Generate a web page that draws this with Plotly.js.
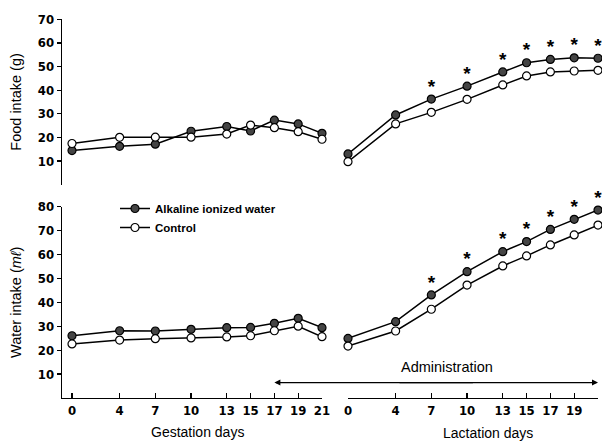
<!DOCTYPE html>
<html>
<head>
<meta charset="utf-8">
<script src="https://cdn.plot.ly/plotly-3.0.1.min.js"></script>
<style>html,body{margin:0;padding:0;background:#fff}#chart{width:602px;height:443px}</style>
</head>
<body>
<div id="chart"></div>
<script>
// ---- data ----
const gestDays = [0, 4, 7, 10, 13, 15, 17, 19, 21];
const lactDays = [0, 4, 7, 10, 13, 15, 17, 19, 21];
const dayLabels = ['0', '4', '7', '10', '13', '15', '17', '19', '21'];

const foodGestAlk = [14.4, 16.2, 17.1, 22.6, 24.6, 22.7, 27.3, 25.7, 21.7];
const foodGestCtl = [17.4, 20.0, 20.1, 20.1, 21.4, 25.2, 24.1, 22.4, 19.2];
const foodLactAlk = [13.0, 29.5, 36.2, 41.7, 47.7, 51.6, 53.0, 53.7, 53.5];
const foodLactCtl = [9.7, 25.7, 30.6, 36.1, 42.2, 46.0, 47.7, 48.1, 48.4];

const waterGestAlk = [26.0, 28.1, 28.0, 28.7, 29.4, 29.5, 31.2, 33.3, 29.4];
const waterGestCtl = [22.6, 24.2, 24.8, 25.1, 25.5, 26.0, 28.1, 30.0, 25.6];
const waterLactAlk = [24.9, 31.9, 43.1, 52.8, 61.2, 65.4, 70.5, 74.7, 78.6];
const waterLactCtl = [21.7, 28.0, 37.1, 47.2, 55.2, 59.4, 64.0, 68.2, 72.3];

const foodSig = [false, false, true, true, true, true, true, true, true];
const waterSig = [false, false, true, true, true, true, true, true, true];

const foodTicks = [10, 20, 30, 40, 50, 60, 70];
const waterTicks = [10, 20, 30, 40, 50, 60, 70, 80];

const seriesNames = ['Alkaline ionized water', 'Control'];

// ---- styles ----
const FONT = 'Liberation Sans, Arial, sans-serif';
const TICKFONT = 'DejaVu Sans Condensed, Liberation Sans Narrow, Liberation Sans, Arial, sans-serif';
const alkStyle = {
  mode: 'lines+markers',
  line: {color: '#000', width: 1.5},
  marker: {symbol: 'circle', size: 8, color: '#444', line: {color: '#000', width: 1.2}},
  cliponaxis: false
};
const ctlStyle = {
  mode: 'lines+markers',
  line: {color: '#000', width: 1.5},
  marker: {symbol: 'circle', size: 8, color: '#fff', line: {color: '#000', width: 1.2}},
  cliponaxis: false
};

function series(x, y, xa, ya, style, name, show) {
  return Object.assign({}, style, {
    x: x, y: y, xaxis: xa, yaxis: ya, name: name,
    legendgroup: name, showlegend: show
  });
}
function stars(x, y, sig, xa, ya) {
  const xs = [], ys = [];
  sig.forEach((s, i) => { if (s) { xs.push(x[i]); ys.push(y[i]); } });
  return {
    x: xs, y: ys, xaxis: xa, yaxis: ya, mode: 'markers+text',
    text: xs.map(() => '*'), textposition: 'top center',
    textfont: {family: FONT, size: 19, color: '#000', weight: 'bold'},
    marker: {size: 1, opacity: 0}, showlegend: false, hoverinfo: 'skip',
    cliponaxis: false
  };
}

const traces = [
  series(gestDays, waterGestAlk, 'x', 'y2', alkStyle, seriesNames[0], true),
  series(gestDays, waterGestCtl, 'x', 'y2', ctlStyle, seriesNames[1], true),
  series(lactDays, waterLactAlk, 'x2', 'y2', alkStyle, seriesNames[0], false),
  series(lactDays, waterLactCtl, 'x2', 'y2', ctlStyle, seriesNames[1], false),
  series(gestDays, foodGestAlk, 'x', 'y', alkStyle, seriesNames[0], false),
  series(gestDays, foodGestCtl, 'x', 'y', ctlStyle, seriesNames[1], false),
  series(lactDays, foodLactAlk, 'x2', 'y', alkStyle, seriesNames[0], false),
  series(lactDays, foodLactCtl, 'x2', 'y', ctlStyle, seriesNames[1], false),
  stars(lactDays, foodLactAlk, foodSig, 'x2', 'y'),
  stars(lactDays, waterLactAlk, waterSig, 'x2', 'y2')
];

const W = 602, H = 443;
const xAxisCommon = {
  showgrid: false, zeroline: false, showline: true, linecolor: '#000', linewidth: 1.3,
  ticks: 'inside', ticklen: 5, tickwidth: 1.2, tickcolor: '#000',
  tickfont: {family: TICKFONT, size: 13, color: '#000', weight: 'bold'},
  anchor: 'y2', fixedrange: true
};
const yAxisCommon = {
  showgrid: false, zeroline: false, showline: true, linecolor: '#000', linewidth: 1.3,
  ticks: 'outside', ticklen: 4, tickwidth: 1.2, tickcolor: '#000',
  tickfont: {family: TICKFONT, size: 13, color: '#000', weight: 'bold'},
  anchor: 'x', fixedrange: true
};
const titleFont = {family: FONT, size: 14.5, color: '#000'};
const xTitleFont = {family: FONT, size: 14, color: '#000'};

const layout = {
  width: W, height: H,
  margin: {l: 0, r: 0, t: 0, b: 0, autoexpand: false},
  paper_bgcolor: '#fff', plot_bgcolor: '#fff',
  font: {family: FONT, color: '#000'},
  showlegend: true,
  legend: {
    x: 115 / W, y: 1 - 194 / H, xanchor: 'left', yanchor: 'top',
    bgcolor: 'rgba(0,0,0,0)', borderwidth: 0,
    font: {family: FONT, size: 11.5, color: '#000', weight: 'bold'},
    tracegroupgap: 0, itemwidth: 30
  },
  xaxis: Object.assign({}, xAxisCommon, {
    domain: [62 / W, 322 / W], range: [-0.84, 21],
    tickvals: gestDays, ticktext: dayLabels
  }),
  xaxis2: Object.assign({}, xAxisCommon, {
    domain: [348 / W, 598 / W], range: [0, 21],
    tickvals: lactDays, ticktext: dayLabels
  }),
  yaxis: Object.assign({}, yAxisCommon, {
    domain: [1 - 184.6 / H, 1 - 19.3 / H], range: [0, 70],
    tickvals: foodTicks,
    title: {text: 'Food intake (g)', standoff: 12, font: titleFont}
  }),
  yaxis2: Object.assign({}, yAxisCommon, {
    domain: [1 - 397.9 / H, 1 - 206.7 / H], range: [0, 80],
    tickvals: waterTicks,
    title: {text: 'Water intake (<i>m\u2113</i>)', standoff: 12, font: titleFont}
  }),
  annotations: [
    {xref: 'x', yref: 'y2', x: 17, y: 6.4, ax: 200, ay: 0, axref: 'pixel', ayref: 'pixel',
     showarrow: true, arrowhead: 2, arrowsize: 1, arrowwidth: 1.2, arrowcolor: '#000', text: ''},
    {xref: 'x2', yref: 'y2', x: 21, y: 6.4, ax: -200, ay: 0, axref: 'pixel', ayref: 'pixel',
     showarrow: true, arrowhead: 2, arrowsize: 1, arrowwidth: 1.2, arrowcolor: '#000', text: ''},
    {xref: 'x2', yref: 'y2', x: 8.3, y: 13, showarrow: false, text: 'Administration',
     yanchor: 'middle', font: titleFont},
    {xref: 'paper', yref: 'paper', x: 197 / W, y: 1 - 432 / H, showarrow: false,
     xanchor: 'center', yanchor: 'middle', text: 'Gestation days', font: xTitleFont},
    {xref: 'paper', yref: 'paper', x: 488 / W, y: 1 - 433 / H, showarrow: false,
     xanchor: 'center', yanchor: 'middle', text: 'Lactation days', font: xTitleFont}
  ]
};

Plotly.newPlot('chart', traces, layout, {displayModeBar: false, staticPlot: true});
</script>
</body>
</html>
